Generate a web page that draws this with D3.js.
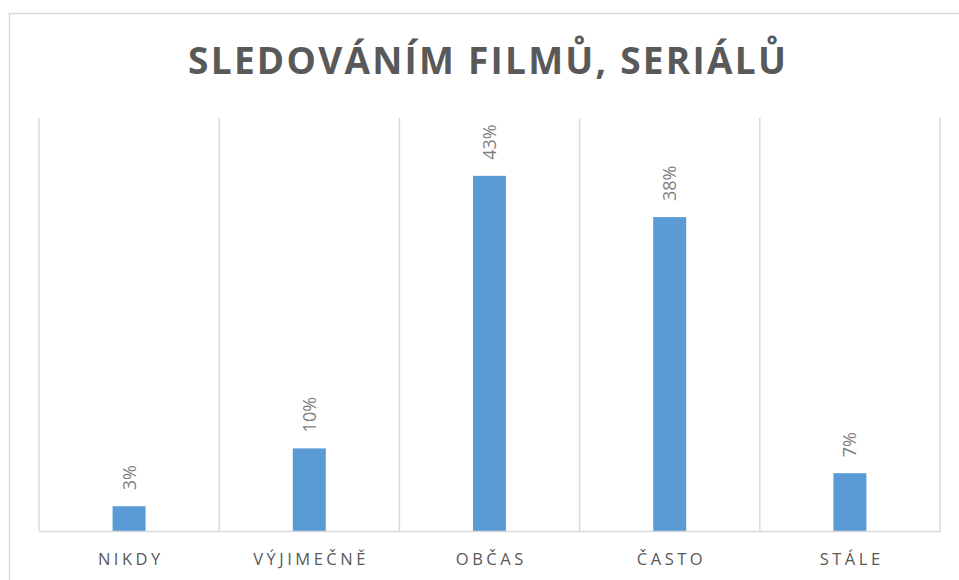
<!DOCTYPE html>
<html><head><meta charset="utf-8">
<script src="https://cdn.jsdelivr.net/npm/d3@7"></script>
<style>body{margin:0;background:#fff}svg{display:block}</style>
</head><body>
<svg id="c" width="959" height="580"></svg>
<script>
const titleText = "SLEDOVÁNÍM FILMŮ, SERIÁLŮ";
const categories = ["NIKDY", "VÝJIMEČNĚ", "OBČAS", "ČASTO", "STÁLE"];
const values = [3, 10, 43, 38, 7];
const valueLabels = ["3%", "10%", "43%", "38%", "7%"];
const yDomain = [0, 50];

const svg = d3.select("#c");
const m = {left: 39, right: 940, top: 118, bottom: 531};

svg.append("rect").attr("x", 9.5).attr("y", 13.5).attr("width", 970).attr("height", 600)
  .attr("fill", "#fff").attr("stroke", "#d9d9d9").attr("stroke-width", 1.5);

const x = d3.scaleBand().domain(categories).range([m.left, m.right]).paddingInner(0).paddingOuter(0);
const y = d3.scaleLinear().domain(yDomain).range([m.bottom, m.top]);

// vertical category gridlines
const bounds = categories.map(c => x(c)).concat([m.right]);
svg.append("g").selectAll("line").data(bounds).join("line")
  .attr("x1", d => d).attr("x2", d => d).attr("y1", m.top).attr("y2", m.bottom)
  .attr("stroke", "#d9d9d9").attr("stroke-width", 1.5);

const barW = 33;
svg.append("g").selectAll("rect").data(values).join("rect")
  .attr("x", (d, i) => x(categories[i]) + x.bandwidth() / 2 - barW / 2)
  .attr("width", barW)
  .attr("y", d => y(d)).attr("height", d => y(0) - y(d))
  .attr("fill", "#5b9bd5");

// baseline axis
const xAxis = d3.axisBottom(x).tickSize(0).tickPadding(0);
const gx = svg.append("g").attr("transform", `translate(0,${m.bottom})`).call(xAxis);
gx.select(".domain").attr("stroke", "#d9d9d9").attr("stroke-width", 1.5);
gx.selectAll("text").attr("y", 34).attr("dy", 0)
  .attr("font-family", "'Open Sans', sans-serif").attr("font-size", 16.5)
  .attr("letter-spacing", "3.5px").attr("fill", "#595959")
  .attr("dx", "1.75px");

// data labels rotated
svg.append("g").selectAll("text").data(values).join("text")
  .attr("transform", (d, i) => `translate(${x(categories[i]) + x.bandwidth() / 2 + 6.5},${y(d) - 16}) rotate(-90)`)
  .attr("text-anchor", "start")
  .attr("font-family", "'Open Sans', sans-serif").attr("font-size", 18)
  .attr("fill", "#7f7f7f")
  .text((d, i) => valueLabels[i]);

// title
const t = svg.append("text").attr("x", 487).attr("y", 74).attr("text-anchor", "middle")
  .attr("font-family", "'Open Sans', sans-serif").attr("font-weight", "bold")
  .attr("font-size", 37).attr("fill", "#595959").attr("letter-spacing", "3px")
  .text(titleText);
// fit width to ~600px
const len = t.node().getComputedTextLength();
const target = 600;
const n = titleText.length;
const ls = 3 + (target - len) / n;
t.attr("letter-spacing", ls + "px").attr("x", 487 + ls / 2);
</script>
</body></html>
